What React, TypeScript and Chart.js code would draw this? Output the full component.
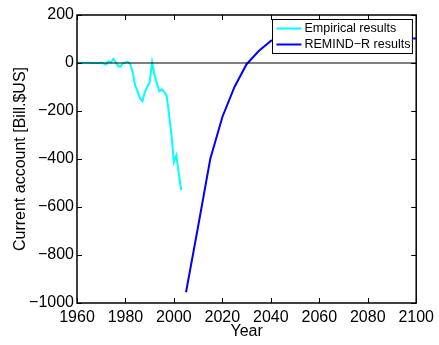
import React, { useEffect, useRef } from "react";
import { Chart, registerables } from "chart.js";

Chart.register(...registerables);

// Observed US current account balance, billions of US$
const empiricalYears = [
  1960, 1961, 1962, 1963, 1964, 1965, 1966, 1967, 1968, 1969,
  1970, 1971, 1972, 1973, 1974, 1975, 1976, 1977, 1978, 1979,
  1980, 1981, 1982, 1983, 1984, 1985, 1986, 1987, 1988, 1989,
  1990, 1991, 1992, 1993, 1994, 1995, 1996, 1997, 1998, 1999,
  2000, 2001, 2002, 2003,
];
const empiricalValues = [
  0, 1, 1, 1, 1, 1, 0, 0, 0, 0,
  2, -2, -6, 7, 2, 17, 3, -14, -15, 0,
  2, 5, -6, -38, -94, -118, -147, -160, -121, -99,
  -79, 3, -50, -85, -118, -110, -120, -136, -215, -300,
  -413, -385, -460, -530,
];

// Model projection
const remindYears = [2005, 2010, 2015, 2020, 2025, 2030, 2035, 2040, 2045, 2050, 2055, 2060, 2070, 2080, 2090, 2100];
const remindValues = [-955, -680, -400, -225, -100, -5, 50, 92, 108, 115, 117, 116, 112, 108, 105, 102];

const xTicks = [1960, 1980, 2000, 2020, 2040, 2060, 2080, 2100];
const yTicks = [200, 0, -200, -400, -600, -800, -1000];

const seriesLabels = ["Empirical results", "REMIND\u2212R results"];
const seriesColors = ["#00ffff", "#0000ff"];

const FONT = "'Liberation Sans', Arial, Helvetica, sans-serif";

const fmt = (v: number) => (v < 0 ? "\u2212" + Math.abs(v) : String(v));

// Box frame, inward ticks, zero line and boxed legend
const framePlugin = {
  id: "frame",
  afterDatasetsDraw(chart: any) {
    const { ctx, chartArea: a, scales } = chart;
    const y0 = scales.y.getPixelForValue(0);
    ctx.save();
    ctx.beginPath();
    ctx.rect(a.left, a.top, a.right - a.left, a.bottom - a.top);
    ctx.clip();
    ctx.strokeStyle = "rgba(0,0,0,0.5)";
    ctx.lineWidth = 2;
    ctx.beginPath();
    ctx.moveTo(a.left, y0);
    ctx.lineTo(a.right, y0);
    ctx.stroke();
    ctx.restore();
  },
  afterDraw(chart: any) {
    const { ctx, chartArea: a, scales } = chart;
    ctx.save();
    ctx.strokeStyle = "#000";
    ctx.lineWidth = 1;
    const tl = 5;
    ctx.beginPath();
    for (const t of xTicks) {
      const px = Math.round(scales.x.getPixelForValue(t)) + 0.5;
      ctx.moveTo(px, a.bottom);
      ctx.lineTo(px, a.bottom - tl);
      ctx.moveTo(px, a.top);
      ctx.lineTo(px, a.top + tl);
    }
    for (const t of yTicks) {
      const py = Math.round(scales.y.getPixelForValue(t)) + 0.5;
      ctx.moveTo(a.left, py);
      ctx.lineTo(a.left + tl, py);
      ctx.moveTo(a.right, py);
      ctx.lineTo(a.right - tl, py);
    }
    ctx.stroke();
    ctx.lineWidth = 1.5;
    ctx.strokeRect(a.left, a.top, a.right - a.left, a.bottom - a.top);

    // legend
    ctx.font = "12.5px " + FONT;
    const textW = Math.max(...seriesLabels.map((s) => ctx.measureText(s).width));
    const lineLen = 25;
    const boxW = 4 + lineLen + 3 + textW + 2;
    const boxH = 34;
    const bx = Math.round(a.right - 4 - boxW) + 0.5;
    const by = Math.round(a.top + 4) + 0.5;
    ctx.fillStyle = "#fff";
    ctx.fillRect(bx, by, boxW, boxH);
    ctx.strokeStyle = "#000";
    ctx.lineWidth = 1;
    ctx.strokeRect(bx, by, boxW, boxH);
    ctx.textBaseline = "middle";
    ctx.textAlign = "left";
    seriesLabels.forEach((lab, i) => {
      const cy = by + 9 + i * 16;
      ctx.strokeStyle = seriesColors[i];
      ctx.lineWidth = 2;
      ctx.beginPath();
      ctx.moveTo(bx + 4, cy);
      ctx.lineTo(bx + 4 + lineLen, cy);
      ctx.stroke();
      ctx.fillStyle = "#000";
      ctx.fillText(lab, bx + 4 + lineLen + 3, cy + 0.5);
    });
    ctx.restore();
  },
};

export default function App() {
  const ref = useRef<HTMLCanvasElement | null>(null);

  useEffect(() => {
    if (!ref.current) return;
    const chart = new Chart(ref.current, {
      type: "line",
      data: {
        datasets: [
          {
            label: seriesLabels[0],
            data: empiricalYears.map((x, i) => ({ x, y: empiricalValues[i] })),
            borderColor: seriesColors[0],
            borderWidth: 2,
            pointRadius: 0,
            tension: 0,
          },
          {
            label: seriesLabels[1],
            data: remindYears.map((x, i) => ({ x, y: remindValues[i] })),
            borderColor: seriesColors[1],
            borderWidth: 2,
            pointRadius: 0,
            tension: 0,
          },
        ],
      },
      options: {
        animation: false,
        responsive: false,
        layout: { padding: { left: 0, top: 15, right: 21, bottom: 0 } },
        plugins: { legend: { display: false }, tooltip: { enabled: false } },
        scales: {
          x: {
            type: "linear",
            min: 1960,
            max: 2100,
            afterBuildTicks: (s: any) => {
              s.ticks = xTicks.map((v) => ({ value: v }));
            },
            afterFit: (s: any) => {
              s.height = 42;
            },
            grid: { display: false, drawTicks: false },
            border: { display: false },
            ticks: {
              color: "#000",
              padding: 5,
              maxRotation: 0,
              autoSkip: false,
              font: { family: FONT, size: 16 },
              callback: (v: any) => String(v),
            },
            title: {
              display: true,
              text: "Year",
              color: "#000",
              font: { family: FONT, size: 16 },
              padding: { top: 0, bottom: 4 },
            },
          },
          y: {
            type: "linear",
            min: -1000,
            max: 200,
            afterBuildTicks: (s: any) => {
              s.ticks = yTicks.map((v) => ({ value: v }));
            },
            afterFit: (s: any) => {
              s.width = 77;
            },
            grid: { display: false, drawTicks: false },
            border: { display: false },
            ticks: {
              color: "#000",
              padding: 3,
              autoSkip: false,
              font: { family: FONT, size: 16 },
              callback: (v: any) => fmt(Number(v)),
            },
            title: {
              display: true,
              text: "Current account [Bill.$US]",
              color: "#000",
              font: { family: FONT, size: 16 },
              padding: { top: 11, bottom: 0 },
            },
          },
        },
      },
      plugins: [framePlugin],
    } as any);
    return () => chart.destroy();
  }, []);

  return (
    <div style={{ position: "fixed", left: 0, top: 0, width: 439, height: 345, background: "#fff" }}>
      <canvas ref={ref} width={439} height={345} style={{ display: "block", width: 439, height: 345 }} />
    </div>
  );
}
